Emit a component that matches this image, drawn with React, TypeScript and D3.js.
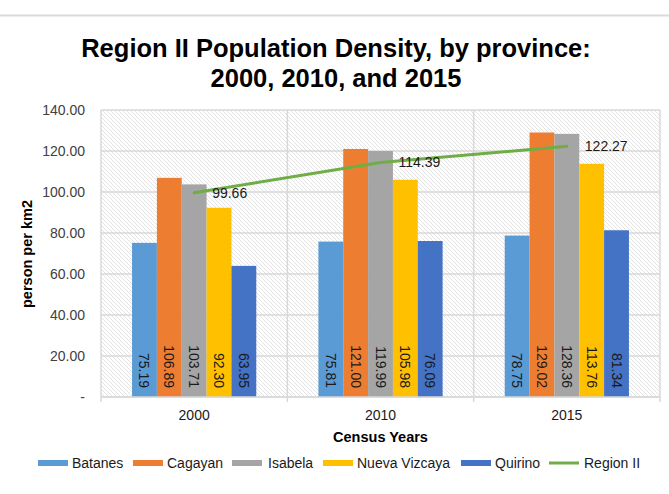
import React from "react";
import * as d3 from "d3";

const years = ["2000", "2010", "2015"];
const provinces = ["Batanes", "Cagayan", "Isabela", "Nueva Vizcaya", "Quirino"];
const batanes = [75.19, 75.81, 78.75];
const cagayan = [106.89, 121.0, 129.02];
const isabela = [103.71, 119.99, 128.36];
const nuevaVizcaya = [92.3, 105.98, 113.76];
const quirino = [63.95, 76.09, 81.34];
const regionII = [99.66, 114.39, 122.27];
const yTicks = [0, 20, 40, 60, 80, 100, 120, 140];

const seriesValues = [batanes, cagayan, isabela, nuevaVizcaya, quirino];
const colors = ["#5B9BD5", "#ED7D31", "#A5A5A5", "#FFC000", "#4472C4"];
const lineColor = "#70AD47";

const W = 669;
const H = 494;
const plot = { left: 101, right: 660, top: 110, bottom: 397 };
const font = "Liberation Sans, Arial, sans-serif";

export default function App() {
  const x = d3.scaleBand<string>().domain(years).range([plot.left, plot.right]).padding(0);
  const bw = x.bandwidth();
  const xs = d3.scaleBand<string>().domain(provinces).range([bw / 6, (bw * 5) / 6]).padding(0);
  const y = d3.scaleLinear().domain([0, 140]).range([plot.bottom, plot.top]);
  const line = d3
    .line<number>()
    .x((_, i) => (x(years[i]) as number) + bw / 2)
    .y((d) => y(d));

  const legendItems = [
    { name: "Batanes", color: colors[0], sx: 38, tx: 72 },
    { name: "Cagayan", color: colors[1], sx: 133, tx: 167 },
    { name: "Isabela", color: colors[2], sx: 232, tx: 268 },
    { name: "Nueva Vizcaya", color: colors[3], sx: 323, tx: 357 },
    { name: "Quirino", color: colors[4], sx: 461, tx: 495 },
  ];

  return (
    <svg
      width={W}
      height={H}
      style={{ position: "absolute", left: 0, top: 0, background: "#fff" }}
      fontFamily={font}
    >
      <defs>
        <pattern id="hatch" patternUnits="userSpaceOnUse" width="4" height="4">
          <rect width="4" height="4" fill="#ffffff" />
          <path d="M-1,-1 L5,5 M-1,3 L1,5 M3,-1 L5,1" stroke="#e3e3e3" strokeWidth="1" />
        </pattern>
      </defs>
      <rect x={0} y={0} width={W} height={H} fill="#fff" />
      <line x1={0} x2={W} y1={15.5} y2={15.5} stroke="#d9d9d9" strokeWidth={2} />

      <text x={336} y={57} textAnchor="middle" fontSize={25.5} fontWeight="bold" fill="#000">
        Region II Population Density, by province:
      </text>
      <text x={336} y={87} textAnchor="middle" fontSize={25.5} fontWeight="bold" fill="#000">
        2000, 2010, and 2015
      </text>

      <rect
        x={plot.left}
        y={plot.top}
        width={plot.right - plot.left}
        height={plot.bottom - plot.top}
        fill="url(#hatch)"
      />
      {yTicks.map((t) => (
        <line
          key={"g" + t}
          x1={plot.left}
          x2={plot.right}
          y1={y(t)}
          y2={y(t)}
          stroke="#d9d9d9"
          strokeWidth={1.5}
        />
      ))}
      {[...years.map((yr) => x(yr) as number), plot.right].map((xv, i) => (
        <line key={"v" + i} x1={xv} x2={xv} y1={plot.top} y2={plot.bottom + 5} stroke="#d9d9d9" strokeWidth={1.5} />
      ))}
      {yTicks.map((t) => (
        <text
          key={"t" + t}
          x={85}
          y={y(t)}
          dy="0.35em"
          textAnchor="end"
          fontSize={14}
          fill="#404040"
        >
          {t === 0 ? "-" : t.toFixed(2)}
        </text>
      ))}

      {years.map((yr, i) => (
        <g key={yr} transform={`translate(${x(yr)},0)`}>
          {provinces.map((p, j) => {
            const v = seriesValues[j][i];
            const bx = xs(p) as number;
            const cx = bx + xs.bandwidth() / 2;
            const ly = plot.bottom - 9;
            return (
              <g key={p}>
                <rect x={bx} y={y(v)} width={xs.bandwidth()} height={plot.bottom - y(v)} fill={colors[j]} />
                <text
                  transform={`translate(${cx},${ly}) rotate(90)`}
                  textAnchor="end"
                  dominantBaseline="central"
                  fontSize={14}
                  fill="#1a1a1a"
                >
                  {v.toFixed(2)}
                </text>
              </g>
            );
          })}
        </g>
      ))}

      <line x1={plot.left} x2={plot.right} y1={plot.bottom} y2={plot.bottom} stroke="#d9d9d9" strokeWidth={1.5} />

      <path d={line(regionII) || ""} fill="none" stroke={lineColor} strokeWidth={3} strokeLinecap="round" />
      {regionII.map((v, i) => (
        <text
          key={"l" + i}
          x={(x(years[i]) as number) + bw / 2 + 18}
          y={y(v)}
          dy="0.35em"
          fontSize={14}
          fill="#1a1a1a"
        >
          {v.toFixed(2)}
        </text>
      ))}

      {years.map((yr) => (
        <text
          key={"x" + yr}
          x={(x(yr) as number) + bw / 2}
          y={415}
          dy="0.35em"
          textAnchor="middle"
          fontSize={14}
          fill="#1a1a1a"
        >
          {yr}
        </text>
      ))}

      <text
        x={(plot.left + plot.right) / 2}
        y={437}
        dy="0.35em"
        textAnchor="middle"
        fontSize={14.5}
        fontWeight="bold"
        fill="#000"
      >
        Census Years
      </text>
      <text
        transform={`translate(27,254) rotate(-90)`}
        textAnchor="middle"
        dominantBaseline="central"
        fontSize={14.5}
        fontWeight="bold"
        fill="#000"
      >
        person per km2
      </text>

      {legendItems.map((it) => (
        <g key={it.name}>
          <rect x={it.sx} y={460} width={30} height={6} fill={it.color} />
          <text x={it.tx} y={463} dy="0.35em" fontSize={14} fill="#1a1a1a">
            {it.name}
          </text>
        </g>
      ))}
      <line x1={549} x2={579} y1={463} y2={463} stroke={lineColor} strokeWidth={3} />
      <text x={584} y={463} dy="0.35em" fontSize={14} fill="#1a1a1a">
        Region II
      </text>
    </svg>
  );
}
